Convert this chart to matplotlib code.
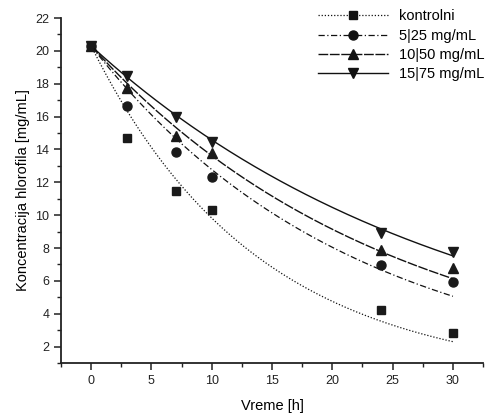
import numpy as np
import matplotlib
matplotlib.use('Agg')
import matplotlib.pyplot as plt
from matplotlib.lines import Line2D
from matplotlib.ticker import MultipleLocator

plt.rcParams['font.family'] = ['Liberation Sans', 'DejaVu Sans']

# measured points
time_h = [0, 3, 7, 10, 24, 30]
kontrolni = [20.3, 14.7, 11.5, 10.3, 4.25, 2.85]
c5_25 = [20.3, 16.65, 13.85, 12.35, 6.95, 5.95]
c10_50 = [20.3, 17.75, 14.8, 13.8, 7.9, 6.8]
c15_75 = [20.3, 18.5, 15.95, 14.45, 8.9, 7.75]

# exponential fits y = A*exp(-k*t)
fit_amp = [20.3, 20.3, 20.3, 20.3]
fit_rate = [0.0726, 0.0463, 0.0399, 0.0331]

labels = ['kontrolni', '5|25 mg/mL', '10|50 mg/mL', '15|75 mg/mL']
series = [kontrolni, c5_25, c10_50, c15_75]
markers = ['s', 'o', '^', 'v']
styles = [(0, (1, 1.5)), (0, (5, 2, 1, 2)), (0, (7, 1.2)), '-']
widths = [0.9, 0.9, 1.0, 1.0]

fig = plt.figure(figsize=(4.98, 4.15), dpi=100)
ax = fig.add_axes([0.1225, 0.1253, 0.8475, 0.8313])

t = np.linspace(0, 30, 200)
handles = []
for y, a, k, m, ls, lw, lab in zip(series, fit_amp, fit_rate, markers, styles, widths, labels):
    ms = 6.5 if m != 's' else 5.8
    ax.plot(t, a * np.exp(-k * t), color='#111111', ls=ls, lw=lw)
    ax.plot(time_h, y, ls='none', marker=m, color='#1a1a1a', ms=ms, clip_on=False)
    handles.append(Line2D([], [], color='#111111', ls=ls, lw=lw, marker=m, ms=ms))

ax.set_xlim(-2.5, 32.5)
ax.set_ylim(1, 22)
ax.xaxis.set_major_locator(MultipleLocator(5))
ax.xaxis.set_minor_locator(MultipleLocator(2.5))
ax.yaxis.set_minor_locator(MultipleLocator(1))
ax.set_yticks(range(2, 23, 2))

for s in ['top', 'right']:
    ax.spines[s].set_visible(False)
for s in ['left', 'bottom']:
    ax.spines[s].set_linewidth(1.3)
    ax.spines[s].set_color('#222222')
ax.tick_params(which='major', direction='out', length=5, width=1.1, labelsize=9, colors='#222222')
ax.tick_params(which='minor', direction='out', length=3, width=1.0, colors='#222222')

ax.set_xlabel('Vreme [h]', fontsize=10.5, labelpad=9)
ax.set_ylabel('Koncentracija hlorofila [mg/mL]', fontsize=10.5, labelpad=4)

ax.legend(handles, labels, loc='upper right', bbox_to_anchor=(1.035, 1.063), frameon=False,
          handlelength=4.8, fontsize=10.5, labelspacing=0.36, handletextpad=0.75)

fig.savefig('out.png', dpi=100)
